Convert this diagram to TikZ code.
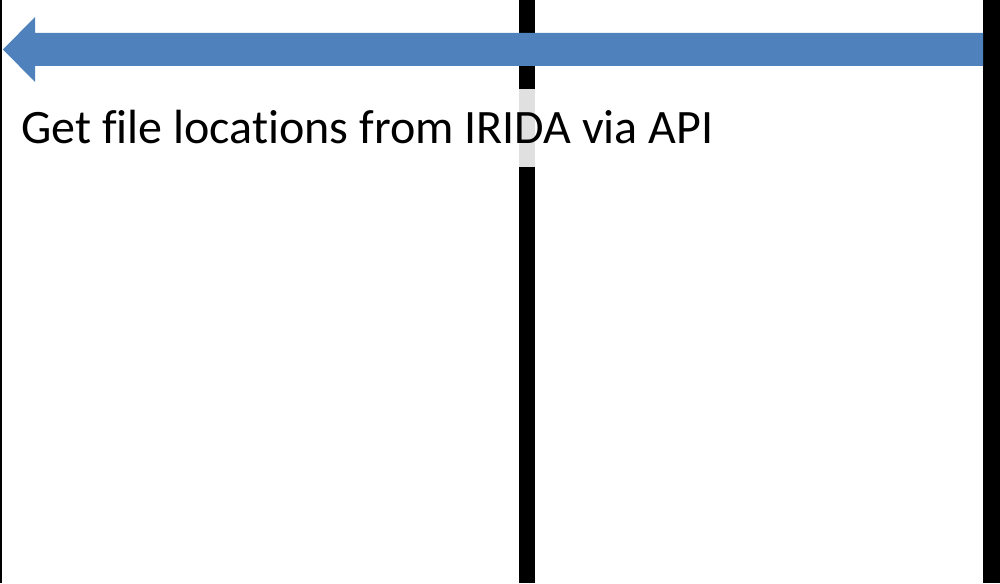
\documentclass[tikz,border=0pt]{standalone}
\usepackage{fontspec}
\setmainfont{Carlito}[Ligatures=NoCommon]
\definecolor{arrowblue}{HTML}{4F81BD}
\definecolor{patchgray}{HTML}{E0E0E0}
\begin{document}
\begin{tikzpicture}[
            x=1pt, y=-1pt,
            bar/.style={fill=black},
            label/.style={inner sep=0pt, anchor=base west, font=\fontsize{48}{58}\selectfont}
            ]
            \useasboundingbox[fill=white] (0,0) rectangle (1000,583);
            % lane separators
            \fill[bar] (0,0) rectangle (2,583);
            \fill[bar] (519,0) rectangle (535,583);
            \fill[bar] (983,0) rectangle (1000,583);
            % arrow from right lane to left lane
            \fill[arrowblue] (983,33) -- (35,33) -- (35,17) -- (3,49.5)
              -- (35,82) -- (35,66) -- (983,66) -- cycle;
            \fill[patchgray] (519,89) rectangle (535,167);
            \node[label] (msg) at (21,143) {Get file locations from IRIDA via API};
        \end{tikzpicture}
\end{document}
